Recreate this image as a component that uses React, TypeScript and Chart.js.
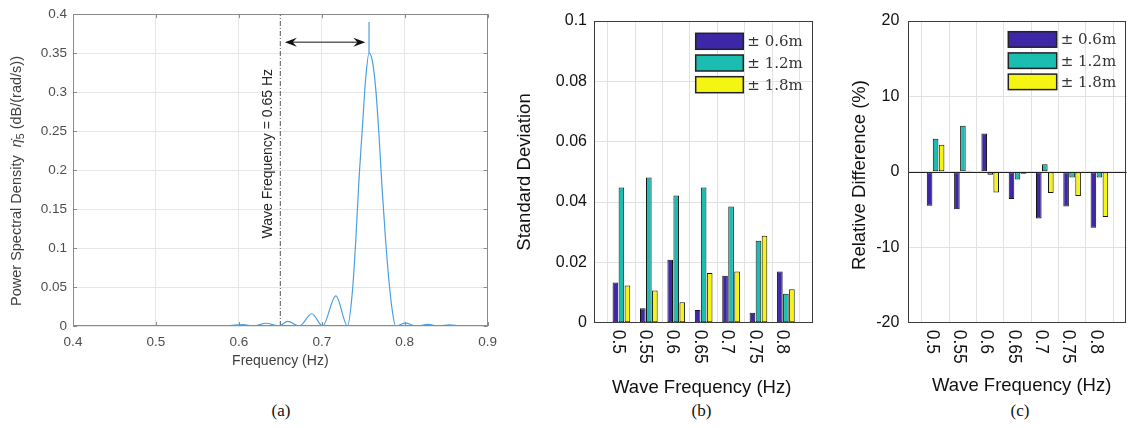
import React, { useEffect, useRef } from 'react';
import { Chart, registerables } from 'chart.js';

Chart.register(...registerables);

// ---------------- Panel (a): power spectral density ----------------
const PSD_FREQ = [
  0.40, 0.47, 0.52, 0.56, 0.585, 0.605, 0.618, 0.633, 0.648, 0.659, 0.673, 0.688, 0.701, 0.717, 0.731,
  0.737, 0.741, 0.745, 0.749, 0.753, 0.757, 0.761, 0.765, 0.769, 0.773, 0.777, 0.781, 0.785, 0.789,
  0.801, 0.814, 0.828, 0.841, 0.854, 0.868, 0.880, 0.900,
];
const PSD_VALUE = [
  0.0002, 0.0003, 0.0001, 0.0006, 0.0003, 0.0018, 0.0002, 0.0035, 0.0, 0.006, 0.0, 0.0157, 0.0, 0.0387, 0.0,
  0.045, 0.11, 0.19, 0.255, 0.318, 0.35, 0.34, 0.305, 0.245, 0.172, 0.11, 0.058, 0.02, 0.0,
  0.004, 0.0, 0.002, 0.0, 0.0015, 0.0, 0.0005, 0.0,
];
const PEAK_FREQ = 0.757;
const SPIKE_VALUES = [0.35, 0.39];
const WAVE_FREQ = 0.65;
const ARROW_FROM = 0.6555;
const ARROW_TO = 0.7525;
const ARROW_LEVEL = 0.364;
const A_X_TICKS = [0.4, 0.5, 0.6, 0.7, 0.8, 0.9];
const A_Y_TICKS = [0, 0.05, 0.1, 0.15, 0.2, 0.25, 0.3, 0.35, 0.4];

// ---------------- Panels (b) and (c): bars ----------------
const WAVE_FREQS = ['0.5', '0.55', '0.6', '0.65', '0.7', '0.75', '0.8'];
const SERIES_NAMES = ['\u00B1 0.6m', '\u00B1 1.2m', '\u00B1 1.8m'];
const SERIES_COLORS = ['#3d27a6', '#1cbdb1', '#f5f513'];

const STD_06 = [0.0133, 0.0048, 0.0209, 0.0042, 0.0156, 0.0033, 0.0170];
const STD_12 = [0.0448, 0.0481, 0.0422, 0.0448, 0.0385, 0.0272, 0.0096];
const STD_18 = [0.0123, 0.0107, 0.0068, 0.0165, 0.0170, 0.0288, 0.0111];

const DIFF_06 = [-4.5, -4.95, 5.1, -3.6, -6.2, -4.6, -7.4];
const DIFF_12 = [4.4, 6.1, -0.4, -1.0, 1.0, -0.75, -0.75];
const DIFF_18 = [3.6, 0.15, -2.75, -0.25, -2.8, -3.2, -6.0];

const B_Y_TICKS = [0, 0.02, 0.04, 0.06, 0.08, 0.1];
const C_Y_TICKS = [-20, -10, 0, 10, 20];

const SANS = '"Liberation Sans", Arial, Helvetica, sans-serif';
const SERIF = '"Liberation Serif", "Times New Roman", serif';

const fmt = (v: number) => String(+Number(v).toFixed(3));

function setTicks(values: number[]) {
  return (scale: any) => {
    scale.ticks = values.map((v) => ({ value: v }));
  };
}

// ---------- Plugin for panel (a) ----------
const panelAPlugin = {
  id: 'panelA',
  afterDatasetsDraw(chart: any) {
    const { ctx, chartArea: a, scales } = chart;
    const xs = scales.x;
    const ys = scales.y;
    ctx.save();
    ctx.strokeStyle = '#8a8a8a';
    ctx.lineWidth = 1;
    ctx.strokeRect(Math.round(a.left) + 0.5, Math.round(a.top) + 0.5, Math.round(a.width) - 1, Math.round(a.height) - 1);
    ctx.beginPath();
    A_X_TICKS.forEach((v) => {
      const px = Math.round(xs.getPixelForValue(v)) + 0.5;
      ctx.moveTo(px, a.bottom);
      ctx.lineTo(px, a.bottom - 4);
      ctx.moveTo(px, a.top);
      ctx.lineTo(px, a.top + 4);
    });
    A_Y_TICKS.forEach((v) => {
      const py = Math.round(ys.getPixelForValue(v)) + 0.5;
      ctx.moveTo(a.left, py);
      ctx.lineTo(a.left + 4, py);
      ctx.moveTo(a.right, py);
      ctx.lineTo(a.right - 4, py);
    });
    ctx.stroke();

    const x1 = xs.getPixelForValue(ARROW_FROM);
    const x2 = xs.getPixelForValue(ARROW_TO);
    const y = ys.getPixelForValue(ARROW_LEVEL);
    ctx.strokeStyle = '#111';
    ctx.fillStyle = '#111';
    ctx.lineWidth = 1;
    ctx.beginPath();
    ctx.moveTo(x1 + 6, y);
    ctx.lineTo(x2 - 6, y);
    ctx.stroke();
    const head = (tip: number, dir: number) => {
      const L = 12;
      const W = 4.5;
      ctx.beginPath();
      ctx.moveTo(tip, y);
      ctx.lineTo(tip + dir * L, y - W);
      ctx.lineTo(tip + dir * L * 0.65, y);
      ctx.lineTo(tip + dir * L, y + W);
      ctx.closePath();
      ctx.fill();
    };
    head(x1, 1);
    head(x2, -1);

    const tx = xs.getPixelForValue(WAVE_FREQ) - 12.5;
    const ty = ys.getPixelForValue(0.221);
    ctx.translate(tx, ty);
    ctx.rotate(-Math.PI / 2);
    ctx.font = '14px ' + SANS;
    ctx.fillStyle = '#262626';
    ctx.textAlign = 'center';
    ctx.textBaseline = 'middle';
    ctx.fillText('Wave Frequency = 0.65 Hz', 0, 0);
    ctx.restore();
  },
  afterDraw(chart: any) {
    const { ctx, chartArea: a } = chart;
    ctx.save();
    ctx.fillStyle = '#404040';
    ctx.font = '14px ' + SANS;
    ctx.textAlign = 'center';
    ctx.textBaseline = 'middle';
    ctx.fillText('Frequency (Hz)', (a.left + a.right) / 2, 361);
    ctx.translate(15.5, 181);
    ctx.rotate(-Math.PI / 2);
    const main = '14.5px ' + SANS;
    const ital = 'italic 14.5px ' + SANS;
    const small = '10.5px ' + SANS;
    const p1 = 'Power Spectral Density  ';
    const eta = '\u03B7\u0307';
    const sub = '5';
    const p2 = ' (dB/(rad/s))';
    ctx.font = main;
    const w1 = ctx.measureText(p1).width;
    const w4 = ctx.measureText(p2).width;
    ctx.font = ital;
    const w2 = ctx.measureText(eta).width;
    ctx.font = small;
    const w3 = ctx.measureText(sub).width;
    let x = -(w1 + w2 + w3 + w4) / 2;
    const base = 5;
    ctx.textAlign = 'left';
    ctx.textBaseline = 'alphabetic';
    ctx.font = main;
    ctx.fillText(p1, x, base);
    x += w1;
    ctx.font = ital;
    ctx.fillText(eta, x, base);
    x += w2;
    ctx.font = small;
    ctx.fillText(sub, x, base + 3);
    x += w3;
    ctx.font = main;
    ctx.fillText(p2, x, base);
    ctx.restore();
  },
};

type BarDecor = {
  yTitle: string;
  yTitleX: number;
  yTitleY: number;
  xTitleY: number;
  legendX: number;
  legendY: number;
  legendRow: number;
  legendW: number;
  legendH: number;
  zeroLine: boolean;
};

function barPanelPlugin(cfg: BarDecor) {
  return {
    id: 'barDecor',
    afterDatasetsDraw(chart: any) {
      const { ctx, chartArea: a, scales } = chart;
      ctx.save();
      if (cfg.zeroLine) {
        const y0 = Math.round(scales.y.getPixelForValue(0)) + 0.5;
        ctx.strokeStyle = '#222';
        ctx.lineWidth = 1;
        ctx.beginPath();
        ctx.moveTo(a.left, y0);
        ctx.lineTo(a.right, y0);
        ctx.stroke();
      }
      ctx.strokeStyle = '#3c3c3c';
      ctx.lineWidth = 1;
      ctx.strokeRect(Math.round(a.left) + 0.5, Math.round(a.top) + 0.5, Math.round(a.width) - 1, Math.round(a.height) - 1);

      ctx.fillStyle = '#111';
      ctx.font = '17.5px ' + SANS;
      ctx.textAlign = 'left';
      ctx.textBaseline = 'middle';
      WAVE_FREQS.forEach((lab, i) => {
        const px = scales.x.getPixelForValue(i + 1);
        ctx.save();
        ctx.translate(px - 4, a.bottom + 7);
        ctx.rotate(Math.PI / 2);
        ctx.fillText(lab, 0, 0);
        ctx.restore();
      });

      chart.data.datasets.forEach((ds: any, k: number) => {
        const top = cfg.legendY + k * cfg.legendRow;
        ctx.fillStyle = ds.backgroundColor;
        ctx.fillRect(cfg.legendX, top, cfg.legendW, cfg.legendH);
        ctx.strokeStyle = '#222';
        ctx.lineWidth = 1.5;
        ctx.strokeRect(cfg.legendX, top, cfg.legendW, cfg.legendH);
        ctx.fillStyle = '#333';
        ctx.font = '15px "DejaVu Serif", serif';
        ctx.textAlign = 'left';
        ctx.textBaseline = 'middle';
        ctx.fillText(ds.label, cfg.legendX + cfg.legendW + 4, top + cfg.legendH / 2 + 1);
      });
      ctx.restore();
    },
    afterDraw(chart: any) {
      const { ctx } = chart;
      ctx.save();
      ctx.fillStyle = '#111';
      ctx.font = '18.5px ' + SANS;
      ctx.textAlign = 'center';
      ctx.textBaseline = 'middle';
      ctx.fillText('Wave Frequency (Hz)', 196.7, cfg.xTitleY);
      ctx.translate(cfg.yTitleX, cfg.yTitleY);
      ctx.rotate(-Math.PI / 2);
      ctx.fillText(cfg.yTitle, 0, 0);
      ctx.restore();
    },
  };
}

function barConfig(series: number[][], yMin: number, yMax: number, yTicks: number[], yWidth: number, padTop: number, padRight: number, xHeight: number, tickPad: number, decor: BarDecor) {
  return {
    type: 'bar' as const,
    data: {
      labels: ['', ...WAVE_FREQS, ''],
      datasets: series.map((vals, k) => ({
        label: SERIES_NAMES[k],
        data: [null, ...vals, null],
        backgroundColor: SERIES_COLORS[k],
        borderColor: '#151515',
        borderWidth: 1,
        borderSkipped: false,
        categoryPercentage: 0.66,
        barPercentage: 0.93,
      })),
    },
    options: {
      animation: false,
      responsive: false,
      devicePixelRatio: 1,
      events: [],
      layout: { padding: { top: padTop, right: padRight, left: 0, bottom: 0 } },
      plugins: { legend: { display: false }, tooltip: { enabled: false }, title: { display: false } },
      scales: {
        x: {
          type: 'category',
          offset: false,
          ticks: { display: false },
          grid: { color: '#e2e2e2', drawTicks: false },
          border: { display: false },
          afterFit: (s: any) => {
            s.height = xHeight;
          },
        },
        y: {
          min: yMin,
          max: yMax,
          afterBuildTicks: setTicks(yTicks),
          ticks: {
            callback: (v: any) => fmt(v),
            color: '#111',
            font: { family: SANS, size: 16 },
            padding: tickPad,
          },
          grid: { color: '#e2e2e2', drawTicks: false },
          border: { display: false },
          afterFit: (s: any) => {
            s.width = yWidth;
          },
        },
      },
    },
    plugins: [barPanelPlugin(decor)],
  };
}

export default function App() {
  const refA = useRef<HTMLCanvasElement>(null);
  const refB = useRef<HTMLCanvasElement>(null);
  const refC = useRef<HTMLCanvasElement>(null);

  useEffect(() => {
    const charts: Chart[] = [];
    if (refA.current) {
      charts.push(
        new Chart(refA.current, {
          type: 'scatter',
          data: {
            datasets: [
              {
                data: PSD_FREQ.map((f, i) => ({ x: f, y: PSD_VALUE[i] })),
                showLine: true,
                borderColor: '#4a9fe0',
                borderWidth: 1.2,
                pointRadius: 0,
                cubicInterpolationMode: 'monotone',
              },
              {
                data: SPIKE_VALUES.map((v) => ({ x: PEAK_FREQ, y: v })),
                showLine: true,
                borderColor: '#4a9fe0',
                borderWidth: 1.2,
                pointRadius: 0,
              },
              {
                data: [
                  { x: WAVE_FREQ, y: 0 },
                  { x: WAVE_FREQ, y: 0.4 },
                ],
                showLine: true,
                borderColor: '#555',
                borderWidth: 1,
                borderDash: [5, 2, 1, 2],
                pointRadius: 0,
              },
            ],
          },
          options: {
            animation: false,
            responsive: false,
            devicePixelRatio: 1,
            events: [],
            layout: { padding: { top: 13, right: 17, left: 0, bottom: 0 } },
            plugins: { legend: { display: false }, tooltip: { enabled: false } },
            scales: {
              x: {
                type: 'linear',
                min: 0.4,
                max: 0.9,
                afterBuildTicks: setTicks(A_X_TICKS),
                ticks: {
                  callback: (v: any) => Number(v).toFixed(1),
                  color: '#4d4d4d',
                  font: { family: SANS, size: 13.5 },
                  padding: 8,
                  maxRotation: 0,
                },
                grid: { color: '#e6e6e6', drawTicks: false },
                border: { display: false },
                afterFit: (s: any) => {
                  s.height = 74;
                },
              },
              y: {
                min: 0,
                max: 0.4,
                afterBuildTicks: setTicks(A_Y_TICKS),
                ticks: {
                  callback: (v: any) => fmt(v),
                  color: '#4d4d4d',
                  font: { family: SANS, size: 13.5 },
                  padding: 6,
                },
                grid: { color: '#e6e6e6', drawTicks: false },
                border: { display: false },
                afterFit: (s: any) => {
                  s.width = 73;
                },
              },
            },
          },
          plugins: [panelAPlugin],
        } as any)
      );
    }
    if (refB.current) {
      charts.push(
        new Chart(
          refB.current,
          barConfig([STD_06, STD_12, STD_18], 0, 0.1, B_Y_TICKS, 89, 21, 11.7, 77.3, 7, {
            yTitle: 'Standard Deviation',
            yTitleX: 20,
            yTitleY: 172,
            xTitleY: 387.7,
            legendX: 190.7,
            legendY: 33.3,
            legendRow: 21.7,
            legendW: 47.6,
            legendH: 16,
            zeroLine: false,
          }) as any
        )
      );
    }
    if (refC.current) {
      charts.push(
        new Chart(
          refC.current,
          barConfig([DIFF_06, DIFF_12, DIFF_18], -20, 20, C_Y_TICKS, 83.3, 21, 4.3, 77.3, 9, {
            yTitle: 'Relative Difference (%)',
            yTitleX: 35,
            yTitleY: 175,
            xTitleY: 386,
            legendX: 183.3,
            legendY: 31.7,
            legendRow: 21.2,
            legendW: 48.4,
            legendH: 15.5,
            zeroLine: true,
          }) as any
        )
      );
    }
    return () => charts.forEach((c) => c.destroy());
  }, []);

  const caption = (text: string, cx: number) => (
    <div
      style={{
        position: 'absolute',
        left: cx - 30,
        top: 401,
        width: 60,
        textAlign: 'center',
        font: '17px ' + SERIF,
        lineHeight: '20px',
        color: '#111',
      }}
    >
      {text}
    </div>
  );

  return (
    <div style={{ position: 'absolute', left: 0, top: 0, width: 1131, height: 428, background: '#fff', overflow: 'hidden' }}>
      <canvas ref={refA} width={505} height={400} style={{ position: 'absolute', left: 0, top: 0 }} />
      <canvas ref={refB} width={320} height={400} style={{ position: 'absolute', left: 505, top: 0 }} />
      <canvas ref={refC} width={306} height={400} style={{ position: 'absolute', left: 825, top: 0 }} />
      {caption('(a)', 281)}
      {caption('(b)', 701.5)}
      {caption('(c)', 1020)}
    </div>
  );
}
